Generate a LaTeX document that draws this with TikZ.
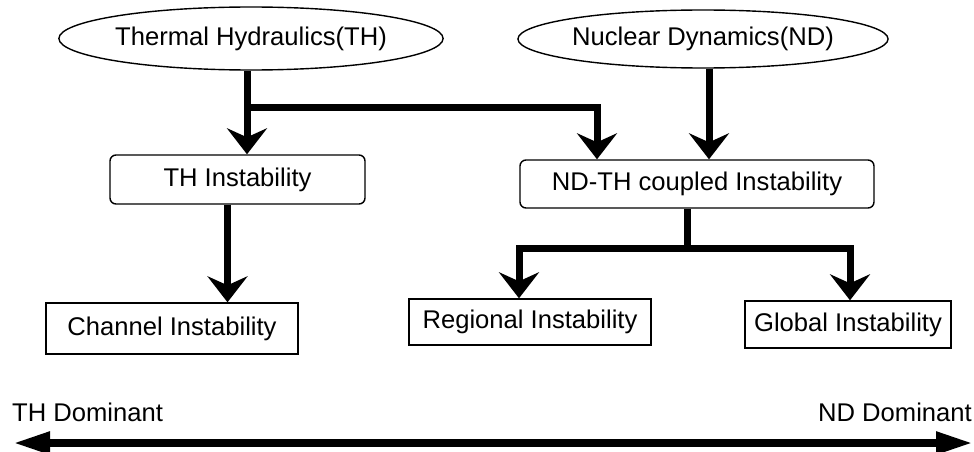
\documentclass[tikz,border=0pt]{standalone}
\usepackage{fontspec}
\setmainfont{Liberation Sans}
\usetikzlibrary{shapes.geometric,arrows.meta}
\begin{document}
\begin{tikzpicture}[x=1pt,y=-1pt,
  every node/.style={font=\fontsize{25.6}{28}\selectfont, inner sep=0pt},
  ell/.style={draw, line width=1.4pt, ellipse},
  rbox/.style={draw, line width=1.4pt, rounded corners=6pt},
  sbox/.style={draw, line width=1.4pt},
  conn/.style={line width=7pt, line join=miter},
  arr/.style={conn, -{Stealth[length=26pt,width=40pt,inset=9pt]}},
  scalearrow/.style={line width=8pt, {Triangle[length=37pt,width=21pt]}-{Triangle[length=37pt,width=21pt]}}
]
\useasboundingbox (0,0) rectangle (974,452);
\fill[white] (0,0) rectangle (974,452);

\node[ell, minimum width=369pt, minimum height=63pt] (TH) at (251,38.5) {Thermal Hydraulics(TH)};
\node[ell, minimum width=308pt, minimum height=58pt] (ND) at (703,39) {Nuclear Dynamics(ND)};
\node[rbox, minimum width=255pt, minimum height=49pt] (THI) at (237.5,179.5) {TH Instability};
\node[rbox, minimum width=354pt, minimum height=48pt] (NDTH) at (697,184) {ND-TH coupled Instability};
\node[sbox, minimum width=252pt, minimum height=51pt] (CH) at (172,328.5) {Channel Instability};
\node[sbox, minimum width=242pt, minimum height=46pt] (REG) at (530,322) {Regional Instability};
\node[sbox, minimum width=206pt, minimum height=47pt] (GLO) at (848,324.5) {Global Instability};

\node[anchor=west] (THD) at (12,412) {TH Dominant};
\node[anchor=east] (NDD) at (972,412) {ND Dominant};

% TH -> TH Instability, with branch to ND-TH
\draw[arr] ([xshift=-4pt]TH.south) -- ([xshift=-4pt]TH.south |- THI.north);
\coordinate (j1) at ([xshift=-4pt]TH.south |- 0,107);
\draw[arr] (j1) -| ([xshift=-100pt]NDTH.north);
% ND -> ND-TH
\draw[arr] ([xshift=6pt]ND.south) -- ([xshift=6pt]ND.south |- NDTH.north);
% TH Instability -> Channel
\draw[arr] ([xshift=-10pt]THI.south) -- ([xshift=-10pt]THI.south |- CH.north);
% ND-TH -> Regional / Global
\draw[conn] ([xshift=-10pt]NDTH.south) -- ([xshift=-10pt]NDTH.south |- 0,248) coordinate (j2);
\draw[arr] (j2) -| ([xshift=-11pt]REG.north);
\draw[arr] (j2) -| ([xshift=2pt]GLO.north);

% bottom scale arrow
\coordinate (SL) at (13,443);
\coordinate (SR) at (973,443);
\draw[scalearrow] (SL) -- (SR);
\end{tikzpicture}
\end{document}
